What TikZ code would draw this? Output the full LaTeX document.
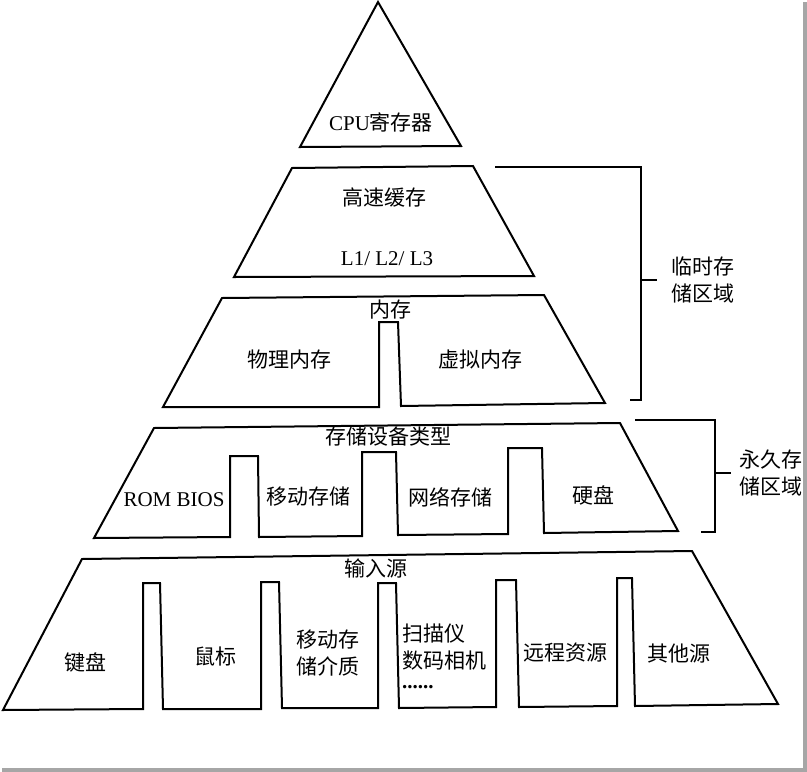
\documentclass[tikz,border=0pt]{standalone}
\usepackage{fontspec}
\setmainfont{Liberation Serif}
\newfontfamily\cjk{Noto Sans CJK SC}
\usetikzlibrary{positioning}

\begin{document}
\begin{tikzpicture}[x=1pt, y=-1pt, line width=2pt,
    lbl/.style={font=\fontsize{21}{27}\selectfont\cjk, align=center, inner sep=0pt}]
    \useasboundingbox (0,0) rectangle (807,772);
    % shadow of the frame
    \fill[gray!70] (803,2) rectangle (807,772);
    \fill[gray!70] (2,768) rectangle (807,772);
    % the layers
    \draw (378,2) -- (461,146) -- (300,147) -- cycle;
    \draw (292,168) -- (473,166) -- (534,276) -- (234,277) -- cycle;
    \draw (222,298) -- (544,295) -- (605,403) -- (401,406) -- (398,322) -- (379,322)
        -- (379,407) -- (163,407) -- cycle;
    \draw (154,428) -- (620,423) -- (678,531) -- (544,533) -- (542,448) -- (508,448)
        -- (508,534) -- (398,535) -- (396,452) -- (362,452) -- (362,536) -- (259,537)
        -- (258,456) -- (230,456) -- (230,537) -- (94,538) -- cycle;
    \draw (82,559) -- (692,551) -- (778,704) -- (635,706) -- (632,578) -- (617,578)
        -- (617,706) -- (519,707) -- (516,580) -- (496,580) -- (496,707) -- (399,708)
        -- (396,583) -- (378,583) -- (378,708) -- (282,708) -- (279,582) -- (261,582)
        -- (261,709) -- (163,709) -- (160,583) -- (143,583) -- (143,709) -- (3,710) -- cycle;
    % brackets
    \draw (495,167) -| (641,400) -- (630,400);
    \draw (641,280) -- (657,280);
    \draw (635,420) -| (715,532) -- (701,532);
    \draw (715,473) -- (731,473);
    % labels
    \node[lbl] (cpu) at (381,122) {{\rmfamily CPU}寄存器};
    \node[lbl] (cache) at (384,198) {高速缓存};
    \node[lbl] (level) at (387,259) {\rmfamily L1/ L2/ L3};
    \node[lbl] (mem) at (390,310) {内存};
    \node[lbl] (phys) at (289,360) {物理内存};
    \node[lbl] (virt) at (480,360) {虚拟内存};
    \node[lbl] (dev) at (388,437) {存储设备类型};
    \node[lbl] (rom) at (174,500) {\rmfamily ROM BIOS};
    \node[lbl] (mobile) at (308,497) {移动存储};
    \node[lbl] (net) at (450,497) {网络存储};
    \node[lbl] (disk) at (593,495) {硬盘};
    \node[lbl] (input) at (376,568) {输入源};
    \node[lbl] (kbd) at (85,662) {键盘};
    \node[lbl] (mouse) at (215,657) {鼠标};
    \node[lbl] (media) at (328,653) {移动存\\储介质};
    \node[lbl, anchor=west, align=left] (scan) at (401,656) {扫描仪\\数码相机\\[-7pt]{\rmfamily\bfseries ......}};
    \node[lbl] (remote) at (565,653) {远程资源};
    \node[lbl] (other) at (679,654) {其他源};
    \node[lbl] (temp) at (703,280) {临时存\\储区域};
    \node[lbl] (perm) at (771,473) {永久存\\储区域};
\end{tikzpicture}
\end{document}
